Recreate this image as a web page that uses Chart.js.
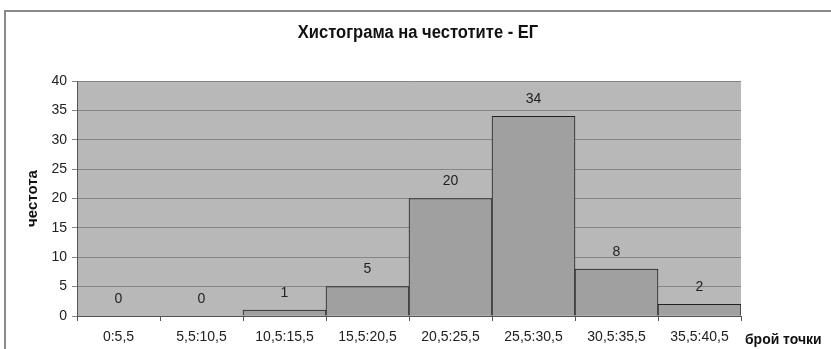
<!DOCTYPE html>
<html>
<head>
<meta charset="utf-8">
<script src="https://cdn.jsdelivr.net/npm/chart.js@4/dist/chart.umd.min.js"></script>
<style>
  html, body { margin: 0; padding: 0; background: #fff; }
  #wrap { width: 831px; height: 349px; position: relative; }
</style>
</head>
<body>
<div id="wrap"><canvas id="c"></canvas></div>
<script>
// Интервали на точките и честоти
const categories = ['0:5,5', '5,5:10,5', '10,5:15,5', '15,5:20,5', '20,5:25,5', '25,5:30,5', '30,5:35,5', '35,5:40,5'];
const frequencies = [0, 0, 1, 5, 20, 34, 8, 2];
const yTicks = [0, 5, 10, 15, 20, 25, 30, 35, 40];

const chartTitle = 'Хистограма на честотите - ЕГ';
const yTitle = 'честота';
const xTitle = 'брой точки';

const FONT = '"Liberation Sans", Arial, sans-serif';

// Текст, леко сгъстен по хоризонтала
function drawNarrow(ctx, text, x, y, sx, align) {
  ctx.save();
  ctx.translate(x, y);
  ctx.scale(sx, 1);
  ctx.textAlign = align;
  ctx.fillText(text, 0, 0);
  ctx.restore();
}

// Рамка, фон на полето, заглавия и стойности над стълбовете
const decor = {
  id: 'decor',
  beforeDraw(chart) {
    const { ctx, chartArea: a } = chart;
    ctx.save();
    ctx.fillStyle = '#ffffff';
    ctx.fillRect(0, 0, chart.width, chart.height);
    ctx.strokeStyle = '#8a8a8a';
    ctx.lineWidth = 2;
    ctx.strokeRect(5, 11, chart.width + 20, chart.height + 20);
    ctx.fillStyle = '#b8b8b8';
    ctx.fillRect(a.left, a.top, a.right - a.left, a.bottom - a.top);
    ctx.restore();
  },
  afterDraw(chart) {
    const { ctx } = chart;
    ctx.save();
    ctx.fillStyle = '#111';
    ctx.textBaseline = 'middle';
    ctx.font = 'bold 18px ' + FONT;
    drawNarrow(ctx, chartTitle, 418, 33, 0.92, 'center');

    ctx.font = 'bold 15px ' + FONT;
    drawNarrow(ctx, xTitle, 745, 340, 0.93, 'left');

    ctx.font = '14px ' + FONT;
    ctx.fillStyle = '#222';
    ctx.textAlign = 'center';
    const meta = chart.getDatasetMeta(0);
    meta.data.forEach((bar, i) => {
      ctx.fillText(String(frequencies[i]), bar.x, bar.y - 17);
    });
    ctx.restore();
  }
};

new Chart(document.getElementById('c'), {
  type: 'bar',
  data: {
    labels: categories,
    datasets: [{
      data: frequencies,
      backgroundColor: '#a0a0a0',
      borderColor: '#222',
      borderWidth: 1,
      barPercentage: 1,
      categoryPercentage: 1
    }]
  },
  options: {
    responsive: true,
    maintainAspectRatio: false,
    animation: false,
    layout: { padding: { left: 0, top: 81, right: 90, bottom: 0 } },
    plugins: {
      legend: { display: false },
      tooltip: { enabled: false },
      title: { display: false }
    },
    scales: {
      x: {
        offset: true,
        grid: {
          offset: true,
          drawOnChartArea: false,
          drawTicks: true,
          tickLength: 5,
          color: '#555'
        },
        border: { color: '#555', width: 1 },
        ticks: {
          font: { family: FONT, size: 14 },
          color: '#222',
          padding: 8,
          maxRotation: 0,
          autoSkip: false
        },
        afterFit(scale) { scale.height = 33; }
      },
      y: {
        min: 0,
        max: 40,
        afterBuildTicks(scale) { scale.ticks = yTicks.map(v => ({ value: v })); },
        grid: {
          color: '#858585',
          lineWidth: 1,
          drawTicks: true,
          tickLength: 5
        },
        border: { color: '#555', width: 1 },
        ticks: {
          font: { family: FONT, size: 14 },
          color: '#222',
          padding: 5
        },
        title: {
          display: true,
          text: yTitle,
          font: { family: FONT, size: 15, weight: 'bold' },
          color: '#111',
          padding: { top: 24, bottom: 0 }
        },
        afterFit(scale) { scale.width = 77; }
      }
    }
  },
  plugins: [decor]
});
</script>
</body>
</html>
